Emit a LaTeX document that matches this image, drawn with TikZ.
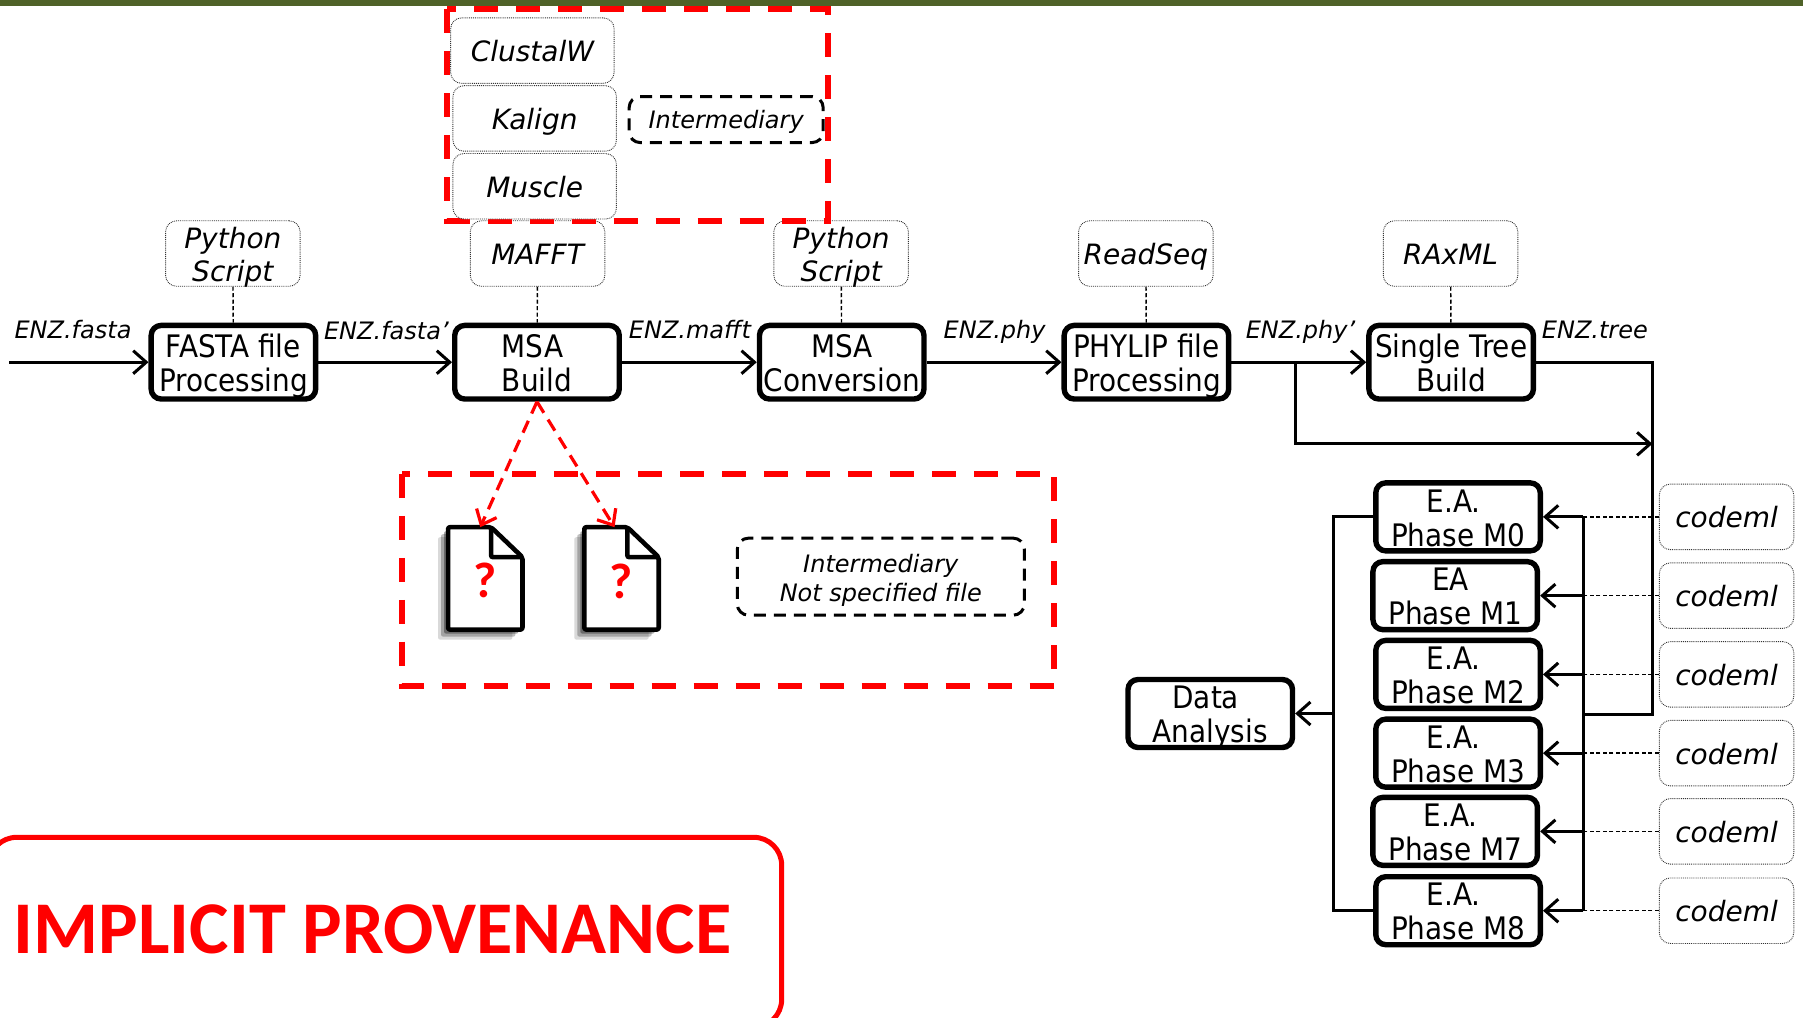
\documentclass[tikz,border=0pt]{standalone}
\usepackage{fontspec}
\setmainfont{DejaVu Sans}
\newfontfamily\condf{DejaVu Sans Condensed}
\newfontfamily\calib{Carlito}
\usetikzlibrary{arrows.meta}
\definecolor{bandgreen}{HTML}{4F6228}
\newcommand{\mainlines}[2]{\rule{0pt}{32pt}#1\\\smash{#2}\rule[-7.4pt]{0pt}{7.4pt}}
\newcommand{\ealines}[2]{\rule{0pt}{29pt}#1\\\smash{#2}\rule[-4.6pt]{0pt}{4.6pt}}
\newcommand{\toollines}[2]{\rule{0pt}{27.4pt}#1\\\smash{#2}\rule[-5pt]{0pt}{5pt}}
\newcommand{\toolline}[1]{\rule[-8pt]{0pt}{38pt}#1}
\newcommand{\noteline}[1]{\rule[-6.5pt]{0pt}{30.5pt}#1}
\newcommand{\notelines}[2]{\rule{0pt}{26.5pt}#1\\#2\rule[-6pt]{0pt}{6pt}}
\tikzset{
  x=1.1499pt,y=-1.1499pt,
  barb/.style={-{Straight Barb[length=13pt,width=23pt,line width=3pt]}},
  flow/.style={line width=3pt,barb},
  wire/.style={line width=3pt},
  mainbox/.style={draw=black,line width=5.4pt,rounded corners=10pt,fill=white,minimum width=164.5pt,minimum height=73.6pt,inner sep=0pt,align=center,font=\condf\fontsize{31}{34}\selectfont},
  eabox/.style={mainbox,minimum height=68pt},
  tool/.style={draw=black!80,line width=.9pt,densely dotted,rounded corners=11pt,fill=white,minimum width=134.5pt,minimum height=65.5pt,inner sep=0pt,align=center,font=\itshape\fontsize{28}{33}\selectfont},
  toolwide/.style={tool,minimum width=163.5pt},
  code/.style={tool},
  note/.style={draw=black,line width=3pt,dash pattern=on 12pt off 8pt,rounded corners=11pt,inner sep=0pt,align=center,font=\itshape\fontsize{24}{29}\selectfont},
  lbl/.style={inner sep=0pt,text height=17.5pt,text depth=0pt,font=\itshape\fontsize{24}{28}\selectfont},
  redbox/.style={draw=red,line width=6pt,dash pattern=on 24pt off 18pt},
  reddash/.style={draw=red,line width=3.2pt,dash pattern=on 13pt off 8pt,-{Straight Barb[length=13pt,width=22pt,line width=3.2pt]}},
  tie/.style={line width=1.4pt,dash pattern=on 4pt off 2.5pt},
  doc/.style={minimum width=74pt,minimum height=102pt,inner sep=0pt},
  qmark/.style={text=red,inner sep=0pt,font=\calib\bfseries\fontsize{50}{52}\selectfont},
}
\newcommand{\docshape}[1]{%
  \foreach \s/\o in {10/.15,7/.25,4/.35}{%
    \fill[black,opacity=\o,rounded corners=2pt] ([xshift=-\s pt,yshift=-\s pt]#1.north west) -- ([xshift=43pt-\s pt,yshift=-\s pt]#1.north west) -- ([xshift=-\s pt,yshift=-30pt-\s pt]#1.north east) -- ([xshift=-\s pt,yshift=-\s pt]#1.south east) -- ([xshift=-\s pt,yshift=-\s pt]#1.south west) -- cycle;}
  \draw[line width=4.6pt,line join=round,fill=white,rounded corners=2pt] (#1.north west) -- ([xshift=43pt]#1.north west) -- ([yshift=-30pt]#1.north east) -- (#1.south east) -- (#1.south west) -- cycle;
  \draw[line width=4.6pt,rounded corners=2pt] ([xshift=43pt]#1.north west) -- ([xshift=43pt,yshift=-30pt]#1.north west) -- ([yshift=-30pt]#1.north east);
}
\begin{document}
\begin{tikzpicture}
\useasboundingbox (0,0) rectangle (1568,885);
\fill[bandgreen] (0,0) rectangle (1568,5);
% implicit provenance
\node[draw=red,line width=5pt,rounded corners=28pt,minimum width=793pt,minimum height=190pt,inner sep=0pt,anchor=north west] (prov) at (-12,726) {};
\node[text=red,inner sep=0pt,font=\calib\bfseries\fontsize{74.4}{78}\selectfont,anchor=west] (provt) at (12,808) {IMPLICIT PROVENANCE};
% main row
\node[mainbox] (fasta) at (203,315) {\mainlines{FASTA file}{Processing}};
\node[mainbox] (msa) at (467,315) {\mainlines{\mbox{MSA\kern 9pt}}{Build}};
\node[mainbox] (conv) at (732,315) {\mainlines{MSA}{Conversion}};
\node[mainbox] (phylip) at (997,315) {\mainlines{PHYLIP file}{Processing}};
\node[mainbox] (tree) at (1262,315) {\mainlines{Single Tree}{Build}};
% tools
\node[tool] (t1) at (202.5,220.5) {\toollines{Python}{Script}};
\node[tool] (t2) at (467.5,220.5) {\toolline{MAFFT}};
\node[tool] (t3) at (731.5,220.5) {\toollines{Python}{Script}};
\node[tool] (t4) at (996.5,220.5) {\toolline{ReadSeq}};
\node[tool] (t5) at (1261.5,220.5) {\toolline{RAxML}};
% red box top
\draw[redbox] (389,8) rectangle (720,192);
\node[toolwide] (clustal) at (463,44) {\toolline{ClustalW}};
\node[toolwide] (kalign) at (465,103) {\toolline{Kalign}};
\node[toolwide] (muscle) at (465,162) {\toolline{Muscle}};
\node[note,minimum width=194pt,minimum height=46pt] (im1) at (631.5,104) {\noteline{Intermediary}};
\draw[tie] (t1) -- (fasta);
\draw[tie] (t2) -- (msa);
\draw[tie] (t3) -- (conv);
\draw[tie] (t4) -- (phylip);
\draw[tie] (t5) -- (tree);
% labels
\node[lbl] (l1) at (63.5,287) {ENZ.fasta};
\node[lbl] (l2) at (336,288) {ENZ.fasta'};
\node[lbl] (l3) at (600,287) {ENZ.mafft};
\node[lbl] (l4) at (865,287) {ENZ.phy};
\node[lbl] (l5) at (1131,287) {ENZ.phy'};
\node[lbl] (l6) at (1387,287) {ENZ.tree};
% flow
\coordinate (start) at (8,315);
\draw[flow] (start) -- (fasta);
\draw[flow] (fasta) -- (msa);
\draw[flow] (msa) -- (conv);
\draw[flow] (conv) -- (phylip);
\draw[flow] (phylip) -- (tree);
\coordinate (split) at (1127,315);
\coordinate (cornerA) at (1127,386);
\coordinate (joinA) at (1437,386);
\draw[flow] (split) -- (cornerA) -- (joinA);
\coordinate (busR) at (1437,621);
\coordinate (busM) at (1377,621);
\draw[wire,line join=miter] (tree.east) -| (busR) -- (busM);
% red box lower
\draw[redbox] (350,412) rectangle (917,597);
\node[doc] (d1) at (422,503) {};
\node[doc] (d2) at (540.5,503) {};
\docshape{d1}
\docshape{d2}
\node[qmark] (q1) at (421.5,505) {?};
\node[qmark] (q2) at (540.5,506) {?};
\node[note,minimum width=287pt,minimum height=77pt] (im2) at (766,501.5) {\notelines{Intermediary}{Not specified file}};
\draw[reddash] (msa.south) -- ([xshift=-5pt]d1.north);
\draw[reddash] (msa.south) -- ([xshift=-7pt]d2.north);
% E.A. boxes
\node[eabox] (m0) at (1268,449.5) {\ealines{\mbox{E.A.\kern 9pt}}{Phase M0}};
\node[eabox] (m1) at (1265.5,518) {\ealines{\mbox{EA\kern 9pt}}{Phase M1}};
\node[eabox] (m2) at (1268,586.5) {\ealines{\mbox{E.A.\kern 9pt}}{Phase M2}};
\node[eabox] (m3) at (1268,655) {\ealines{\mbox{E.A.\kern 9pt}}{Phase M3}};
\node[eabox] (m7) at (1265.5,723) {\ealines{\mbox{E.A.\kern 9pt}}{Phase M7}};
\node[eabox] (m8) at (1268,792) {\ealines{\mbox{E.A.\kern 9pt}}{Phase M8}};
\node[eabox] (data) at (1052.5,620.5) {\ealines{\mbox{Data\kern 9pt}}{Analysis}};
% codeml
\node[code] (k0) at (1501.5,449.5) {\toolline{codeml}};
\node[code] (k1) at (1501.5,518) {\toolline{codeml}};
\node[code] (k2) at (1501.5,586.5) {\toolline{codeml}};
\node[code] (k3) at (1501.5,655) {\toolline{codeml}};
\node[code] (k4) at (1501.5,723) {\toolline{codeml}};
\node[code] (k5) at (1501.5,792) {\toolline{codeml}};
\foreach \k/\m in {k0/m0,k1/m1,k2/m2,k3/m3,k4/m7,k5/m8}{
  \draw[tie] (\k.west) -- (\k.west -| busM);
  \draw[flow] (\k.west -| busM) -- (\m.east);
}
\draw[wire] (k0.west -| busM) -- (k5.west -| busM);
% output bus
\coordinate (busL) at (1160,620.5);
\draw[wire,line join=miter] (m0.west) -- (m0.west -| busL) -- (m8.west -| busL) -- (m8.west);
\draw[flow] (busL) -- (data.east);
\end{tikzpicture}
\end{document}
